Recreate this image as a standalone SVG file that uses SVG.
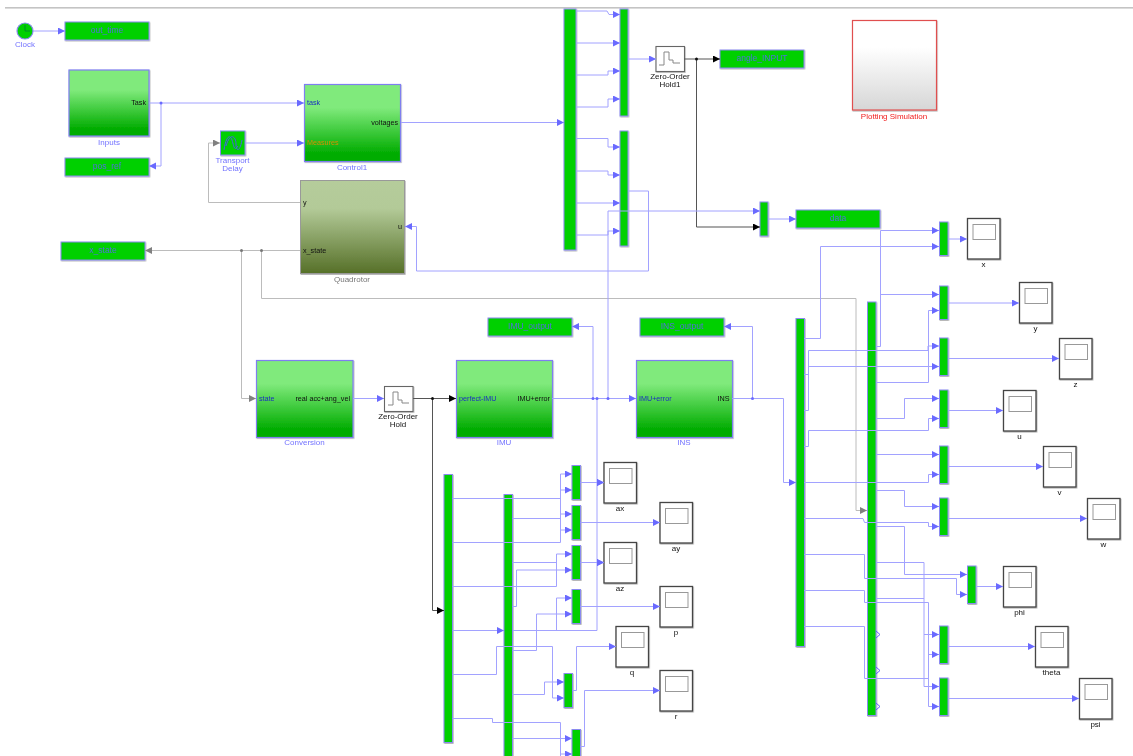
<svg xmlns="http://www.w3.org/2000/svg" width="1133" height="756" viewBox="0 0 1133 756">
<style>
text{font-family:"Liberation Sans",Arial,sans-serif;font-size:8px}
.p{font-size:7.2px}
.in{font-size:8.500px;fill:#4f70d8;text-anchor:middle}
.c{text-anchor:middle}.e{text-anchor:end}
.bl{fill:#7272ff}.dk{fill:#111}.gr{fill:#777}.pb{fill:#1a2fc0}
.w{fill:none;stroke:#a2a2ff;stroke-width:1}
.g{fill:none;stroke:#bcbcbc;stroke-width:1}
.k{fill:none;stroke:#555;stroke-width:1}
.ab{marker-end:url(#ab)}.ag{marker-end:url(#ag)}.ak{marker-end:url(#ak)}
.dot{fill:#6a6aff}.dotg{fill:#777}.dotk{fill:#111}
.bar{fill:#00d000;stroke:#8a8af0;stroke-width:1;filter:url(#sh)}
.sub{fill:url(#gg);stroke:#7f7ff0;stroke-width:1.2;filter:url(#sh)}
.sc{fill:#fff;stroke:#444;stroke-width:1.300;filter:url(#sh)}
.sci{fill:none;stroke:#999;stroke-width:1}
</style>
<defs>
<linearGradient id="gg" x1="0" y1="0" x2="0" y2="1"><stop offset="0" stop-color="#80ea7c"/><stop offset=".3" stop-color="#80ea7c"/><stop offset=".9" stop-color="#00ac00"/><stop offset="1" stop-color="#00ac00"/></linearGradient>
<linearGradient id="gq" x1="0" y1="0" x2="0" y2="1"><stop offset="0" stop-color="#b5cc9b"/><stop offset=".3" stop-color="#b3ca98"/><stop offset="1" stop-color="#567028"/></linearGradient>
<linearGradient id="gp" x1="0" y1="0" x2="0" y2="1"><stop offset="0" stop-color="#fff"/><stop offset=".3" stop-color="#fff"/><stop offset="1" stop-color="#d6d6d6"/></linearGradient>
<marker id="ab" markerUnits="userSpaceOnUse" markerWidth="8" markerHeight="8" refX="7" refY="3.500" orient="auto"><path d="M0 0L7 3.500L0 7z" fill="#6a6aff"/></marker>
<marker id="ag" markerUnits="userSpaceOnUse" markerWidth="8" markerHeight="8" refX="7" refY="3.500" orient="auto"><path d="M0 0L7 3.500L0 7z" fill="#808080"/></marker>
<marker id="ak" markerUnits="userSpaceOnUse" markerWidth="8" markerHeight="8" refX="7" refY="3.500" orient="auto"><path d="M0 0L7 3.500L0 7z" fill="#000"/></marker>
<filter id="soft" x="0" y="0" width="100%" height="100%"><feGaussianBlur stdDeviation="0.4"/></filter>
<filter id="sh" x="-20%" y="-20%" width="140%" height="140%"><feDropShadow dx=".6" dy=".8" stdDeviation=".6" flood-color="#000" flood-opacity=".35"/></filter>
</defs>
<rect width="1133" height="756" fill="#fff"/>
<g filter="url(#soft)">
<rect x="5" y="7" width="1128" height="1.6" fill="#c4c4c4"/>

<g id="nodes-top">
<g id="clock"><circle cx="25" cy="31" r="8" fill="#00d000" stroke="#8a8af0" stroke-width="1.2"/><path d="M25 25V31H30" fill="none" stroke="#007f30" stroke-width=".8"/><text x="25" y="47" class="c bl">Clock</text></g>
<g id="out_time"><rect x="65" y="22" width="84" height="18" class="bar"/><text x="107" y="33" class="in">out_time</text></g>
<g id="inputs"><rect x="69" y="70" width="80" height="66" class="sub"/><text x="146" y="105" class="e dk p">Task</text><text x="109" y="145" class="c bl">Inputs</text></g>
<g id="pos_ref"><rect x="65" y="158" width="84" height="18" class="bar"/><text x="107" y="169" class="in">pos_ref</text></g>
<g id="transport_delay"><rect x="220.500" y="131" width="24.500" height="24" class="bar"/><path d="M224 150C226 136 230 134 232 140S234 152 238 146M226 146C230 132 236 136 236 144S240 152 242 140" fill="none" stroke="#4a5ee8" stroke-width="1"/><text x="232.500" y="163" class="c bl">Transport</text><text x="232.500" y="171" class="c bl">Delay</text></g>
<g id="control1"><rect x="304.500" y="84.500" width="96" height="77" class="sub"/><text x="307" y="105" class="pb p">task</text><text x="307" y="145" fill="#d49000" class="p">Measures</text><text x="398" y="125" class="e dk p">voltages</text><text x="352" y="170" class="c bl">Control1</text></g>
<g id="quadrotor"><rect x="300.500" y="180.500" width="104" height="93" fill="url(#gq)" stroke="#999" stroke-width="1" filter="url(#sh)"/><text x="303" y="205" class="dk p">y</text><text x="303" y="253" class="dk p">x_state</text><text x="402" y="229" class="e dk p">u</text><text x="352" y="282" class="c gr">Quadrotor</text></g>
<g id="x_state"><rect x="61" y="242" width="84" height="18" class="bar"/><text x="103" y="253" class="in">x_state</text></g>
<g id="demux-top"><rect x="564" y="9" width="12" height="241" class="bar"/></g>
<g id="mux-top1"><rect x="620" y="9" width="8" height="107" class="bar"/></g>
<g id="mux-top2"><rect x="620" y="131" width="8" height="115" class="bar"/></g>
<g id="zoh1"><rect x="656" y="46.500" width="28.500" height="25" fill="#fff" stroke="#666" stroke-width="1.100" filter="url(#sh)"/><path d="M659 65H664V52H669V60H673V63H680" fill="none" stroke="#888" stroke-width="1"/><text x="670" y="79" class="c dk">Zero-Order</text><text x="670" y="87" class="c dk">Hold1</text></g>
<g id="angle_input"><rect x="720" y="50" width="84" height="18" class="bar"/><text x="762" y="61" class="in">angle_INPUT</text></g>
<g id="plotting"><rect x="852.500" y="20.500" width="84" height="89.500" fill="url(#gp)" stroke="#e05050" stroke-width="1.2" filter="url(#sh)"/><text x="894" y="119" class="c" fill="#f02020">Plotting Simulation</text></g>
<g id="mux-data"><rect x="760" y="202" width="8" height="34" class="bar"/></g>
<g id="data"><rect x="796" y="210" width="84" height="18" class="bar"/><text x="838" y="221" class="in">data</text></g>
</g>

<g id="nodes-mid">
<g id="conversion"><rect x="256.500" y="360.500" width="96.500" height="77" class="sub"/><text x="259" y="401" class="pb p">state</text><text x="350" y="401" class="e dk p">real acc+ang_vel</text><text x="304.500" y="445" class="c bl">Conversion</text></g>
<g id="zoh"><rect x="384.500" y="386.500" width="28.500" height="25" fill="#fff" stroke="#666" stroke-width="1.100" filter="url(#sh)"/><path d="M388 405H393V392H398V400H402V403H409" fill="none" stroke="#888" stroke-width="1"/><text x="398" y="419" class="c dk">Zero-Order</text><text x="398" y="427" class="c dk">Hold</text></g>
<g id="imu"><rect x="456.500" y="360.500" width="96" height="77" class="sub"/><text x="459" y="401" class="pb p">perfect-IMU</text><text x="550" y="401" class="e dk p">IMU+error</text><text x="504" y="445" class="c bl">IMU</text></g>
<g id="ins"><rect x="636.500" y="360.500" width="96" height="77" class="sub"/><text x="639" y="401" class="pb p">IMU+error</text><text x="729.500" y="401" class="e dk p">INS</text><text x="684" y="445" class="c bl">INS</text></g>
<g id="imu_output"><rect x="488" y="318" width="84" height="18" class="bar"/><text x="530" y="329" class="in">IMU_output</text></g>
<g id="ins_output"><rect x="640" y="318" width="84" height="18" class="bar"/><text x="682" y="329" class="in">INS_output</text></g>
</g>

<g id="nodes-lower">
<rect id="demux-c" x="444" y="474.500" width="8.500" height="268" class="bar"/>
<rect id="demux-d" x="504" y="494.500" width="8.500" height="270" class="bar"/>
<rect id="mux-ax" x="572" y="465.500" width="8.500" height="34" class="bar"/>
<rect id="mux-ay" x="572" y="505.500" width="8.500" height="34" class="bar"/>
<rect id="mux-az" x="572" y="545.500" width="8.500" height="34" class="bar"/>
<rect id="mux-p" x="572" y="589.500" width="8.500" height="34" class="bar"/>
<rect id="mux-q" x="564" y="673.500" width="8.500" height="34" class="bar"/>
<rect id="mux-r" x="572" y="729.500" width="8.500" height="34" class="bar"/>
<g id="scope-ax"><rect x="604" y="462.500" width="32.500" height="40.500" class="sc"/><rect x="609.500" y="468.500" width="22.500" height="15" class="sci"/><text x="620" y="511" class="c dk">ax</text></g>
<g id="scope-ay"><rect x="660" y="502.500" width="32.500" height="40.500" class="sc"/><rect x="665.500" y="508.500" width="22.500" height="15" class="sci"/><text x="676" y="551" class="c dk">ay</text></g>
<g id="scope-az"><rect x="604" y="542.500" width="32.500" height="40.500" class="sc"/><rect x="609.500" y="548.500" width="22.500" height="15" class="sci"/><text x="620" y="591" class="c dk">az</text></g>
<g id="scope-p"><rect x="660" y="586.500" width="32.500" height="40.500" class="sc"/><rect x="665.500" y="592.500" width="22.500" height="15" class="sci"/><text x="676" y="635" class="c dk">p</text></g>
<g id="scope-q"><rect x="616" y="626.500" width="32.500" height="40.500" class="sc"/><rect x="621.500" y="632.500" width="22.500" height="15" class="sci"/><text x="632" y="675" class="c dk">q</text></g>
<g id="scope-r"><rect x="660" y="670.500" width="32.500" height="40.500" class="sc"/><rect x="665.500" y="676.500" width="22.500" height="15" class="sci"/><text x="676" y="719" class="c dk">r</text></g>
</g>

<g id="nodes-right">
<rect id="demux-a" x="796" y="318.500" width="8.500" height="328" class="bar"/>
<rect id="demux-b" x="867.500" y="302" width="8.500" height="413.500" class="bar"/>
<rect id="mux-x" x="939.500" y="222" width="8.500" height="33.500" class="bar"/>
<rect id="mux-y" x="939.500" y="286" width="8.500" height="33.500" class="bar"/>
<rect id="mux-z" x="939.500" y="338" width="8.500" height="37.500" class="bar"/>
<rect id="mux-u" x="939.500" y="390" width="8.500" height="37.500" class="bar"/>
<rect id="mux-v" x="939.500" y="446" width="8.500" height="37.500" class="bar"/>
<rect id="mux-w" x="939.500" y="498" width="8.500" height="37.500" class="bar"/>
<rect id="mux-phi" x="967.500" y="566" width="8.500" height="37.500" class="bar"/>
<rect id="mux-theta" x="939.500" y="626" width="8.500" height="37.500" class="bar"/>
<rect id="mux-psi" x="939.500" y="678" width="8.500" height="37.500" class="bar"/>
<g id="scope-x"><rect x="967.500" y="218.500" width="32.500" height="40.500" class="sc"/><rect x="973" y="224.500" width="22.500" height="15" class="sci"/><text x="983.500" y="267" class="c dk">x</text></g>
<g id="scope-y"><rect x="1019.500" y="282.500" width="32.500" height="40.500" class="sc"/><rect x="1025" y="288.500" width="22.500" height="15" class="sci"/><text x="1035.500" y="331" class="c dk">y</text></g>
<g id="scope-z"><rect x="1059.500" y="338.500" width="32.500" height="40.500" class="sc"/><rect x="1065" y="344.500" width="22.500" height="15" class="sci"/><text x="1075.500" y="387" class="c dk">z</text></g>
<g id="scope-u"><rect x="1003.500" y="390.500" width="32.500" height="40.500" class="sc"/><rect x="1009" y="396.500" width="22.500" height="15" class="sci"/><text x="1019.500" y="439" class="c dk">u</text></g>
<g id="scope-v"><rect x="1043.500" y="446.500" width="32.500" height="40.500" class="sc"/><rect x="1049" y="452.500" width="22.500" height="15" class="sci"/><text x="1059.500" y="495" class="c dk">v</text></g>
<g id="scope-w"><rect x="1087.500" y="498.500" width="32.500" height="40.500" class="sc"/><rect x="1093" y="504.500" width="22.500" height="15" class="sci"/><text x="1103.500" y="547" class="c dk">w</text></g>
<g id="scope-phi"><rect x="1003.500" y="566.500" width="32.500" height="40.500" class="sc"/><rect x="1009" y="572.500" width="22.500" height="15" class="sci"/><text x="1019.500" y="615" class="c dk">phi</text></g>
<g id="scope-theta"><rect x="1035.500" y="626.500" width="32.500" height="40.500" class="sc"/><rect x="1041" y="632.500" width="22.500" height="15" class="sci"/><text x="1051.500" y="675" class="c dk">theta</text></g>
<g id="scope-psi"><rect x="1079.500" y="678.500" width="32.500" height="40.500" class="sc"/><rect x="1085" y="684.500" width="22.500" height="15" class="sci"/><text x="1095.500" y="727" class="c dk">psi</text></g>
</g>

<g id="connectors">
<path class="w ab" d="M33 31H65"/>
<path class="w ab" d="M149 103H304"/>
<path class="w ab" d="M161 103V166H149"/>
<path class="w ab" d="M245 143H304"/>
<path class="g ag" d="M300 202.500H208.500V143H220"/>
<path class="g ag" d="M300 250.500H145"/>
<path class="g ag" d="M241.500 250.500V398.500H256"/>
<path class="g ag" d="M261.500 250.500V298.500H856V510.500H867"/>
<path class="w ab" d="M401 122.500H564"/>
<path class="w ab" d="M576 11H607L609 14.500H620"/>
<path class="w ab" d="M576 43H620"/>
<path class="w ab" d="M576 75H608V71H620"/>
<path class="w ab" d="M576 107H608V99H620"/>
<path class="w ab" d="M576 138.500H608V147H620"/>
<path class="w ab" d="M576 171H608V175H620"/>
<path class="w ab" d="M576 203H620"/>
<path class="w ab" d="M576 235H608V231H620"/>
<path class="w ab" d="M628 59H656"/>
<path class="k ak" d="M684 59H720"/>
<path class="k ak" d="M696.500 59V227H760"/>
<path class="w ab" d="M628 191H648.500V271H416.500V226.500H405"/>
<path class="w ab" d="M608 398.500V211H760"/>
<path class="w ab" d="M768 219H796"/>
<path class="w ab" d="M353 398.500H384"/>
<path class="k ak" d="M413 398.500H456"/>
<path class="k ak" d="M432.500 398.500V610.500H444"/>
<path class="w ab" d="M552 398.500H636"/>
<path class="w ab" d="M593 398.500V326.500H572"/>
<path class="w" d="M597 398.500V630.500H513"/>
<path class="w ab" d="M597 482.500H604"/>
<path class="w ab" d="M597 562.500H604"/>
<path class="w ab" d="M452.500 630.500H504"/>
<path class="w ab" d="M452.500 498.500H560.500V474H572"/>
<path class="w ab" d="M560.500 490H572"/>
<path class="w ab" d="M512.500 518.500H560.500V514H572"/>
<path class="w ab" d="M560.500 530H572"/>
<path class="w" d="M452.500 542.500H560.500V498"/>
<path class="w ab" d="M512.500 562.500H556.500V554H572"/>
<path class="w" d="M452.500 586.500H556.500V554"/>
<path class="w ab" d="M512.500 606.500H516.500V570H572"/>
<path class="w ab" d="M556.500 630.500V598H572"/>
<path class="w ab" d="M512.500 650.500H536.500V614H572"/>
<path class="w ab" d="M512.500 694.500H544.500V682H564"/>
<path class="w ab" d="M452.500 674.500H496.500V646.500H552.500V698H564"/>
<path class="w" d="M452.500 718.500H492.500V722.500H560.500V756"/>
<path class="w ab" d="M512.500 738.500H572"/>
<path class="w ab" d="M560.500 754H572"/>
<path class="w ab" d="M580.500 482.500H604"/>
<path class="w ab" d="M580.500 522.500H660"/>
<path class="w ab" d="M580.500 562.500H604"/>
<path class="w ab" d="M580.500 606.500H660"/>
<path class="w ab" d="M572.500 690.500H576.500V646.500H616"/>
<path class="w ab" d="M580.500 746.500H584.500V690.500H660"/>
<path class="w ab" d="M732 398.500H783.500V482.500H796"/>
<path class="w ab" d="M752.500 398.500V326.500H724"/>
<path class="w ab" d="M804 338.500H820.500V246.500H939"/>
<path class="w ab" d="M876 346.500H880.500V230.500H939"/>
<path class="w ab" d="M880.500 294.500H939"/>
<path class="w" d="M804 374.500H808.500"/>
<path class="w ab" d="M804 410.500H808.500V350.500H928V346H939"/>
<path class="w ab" d="M808.500 366.500H939"/>
<path class="w ab" d="M876 382.500H928.500V310.500H939"/>
<path class="w ab" d="M804 446.500H808.500V430.500H928.500V418.500H939"/>
<path class="w ab" d="M876 418.500H904.500V398.500H939"/>
<path class="w ab" d="M876 454.500H939"/>
<path class="w ab" d="M804 482.500H928.500V474.500H939"/>
<path class="w ab" d="M876 490.500H904.500V506.500H939"/>
<path class="w ab" d="M804 518.500H863L864.500 522.500H928.500V526.500H939"/>
<path class="w ab" d="M876 526.500H904.500V574.500H967"/>
<path class="w ab" d="M804 554.500H864.500V578.500H956.500V594.500H967"/>
<path class="w ab" d="M876 562.500H924V686.500H939"/>
<path class="w ab" d="M924 634.500H939"/>
<path class="w" d="M876 598.500H924"/>
<path class="w ab" d="M804 590.500H864.500V602.500H928.500V706.500H939"/>
<path class="w ab" d="M928.500 654.500H939"/>
<path class="w" d="M804 626.500H864.500V678.500H928.500"/>
<path class="w ab" d="M948 239H967"/>
<path class="w ab" d="M948 303H1019"/>
<path class="w ab" d="M948 358.500H1059"/>
<path class="w ab" d="M948 410.500H1003"/>
<path class="w ab" d="M948 466.500H1043"/>
<path class="w ab" d="M948 518.500H1087"/>
<path class="w ab" d="M976 586.500H1003"/>
<path class="w ab" d="M948 646.500H1035"/>
<path class="w ab" d="M948 698.500H1079"/>
<path d="M876 631L880 634.500L876 638M876 667L880 670.500L876 674M876 703L880 706.500L876 710" fill="none" stroke="#5f5fff" stroke-width="1"/>
<circle cx="161" cy="103" r="1.500" class="dot"/>
<circle cx="241.500" cy="250.500" r="1.500" class="dotg"/>
<circle cx="261.500" cy="250.500" r="1.500" class="dotg"/>
<circle cx="696.500" cy="59" r="1.500" class="dotk"/>
<circle cx="432.500" cy="398.500" r="1.500" class="dotk"/>
<circle cx="593" cy="398.500" r="1.500" class="dot"/>
<circle cx="597" cy="398.500" r="1.500" class="dot"/>
<circle cx="608" cy="398.500" r="1.500" class="dot"/>
<circle cx="752.500" cy="398.500" r="1.500" class="dot"/>
</g>
</g>
</svg>
